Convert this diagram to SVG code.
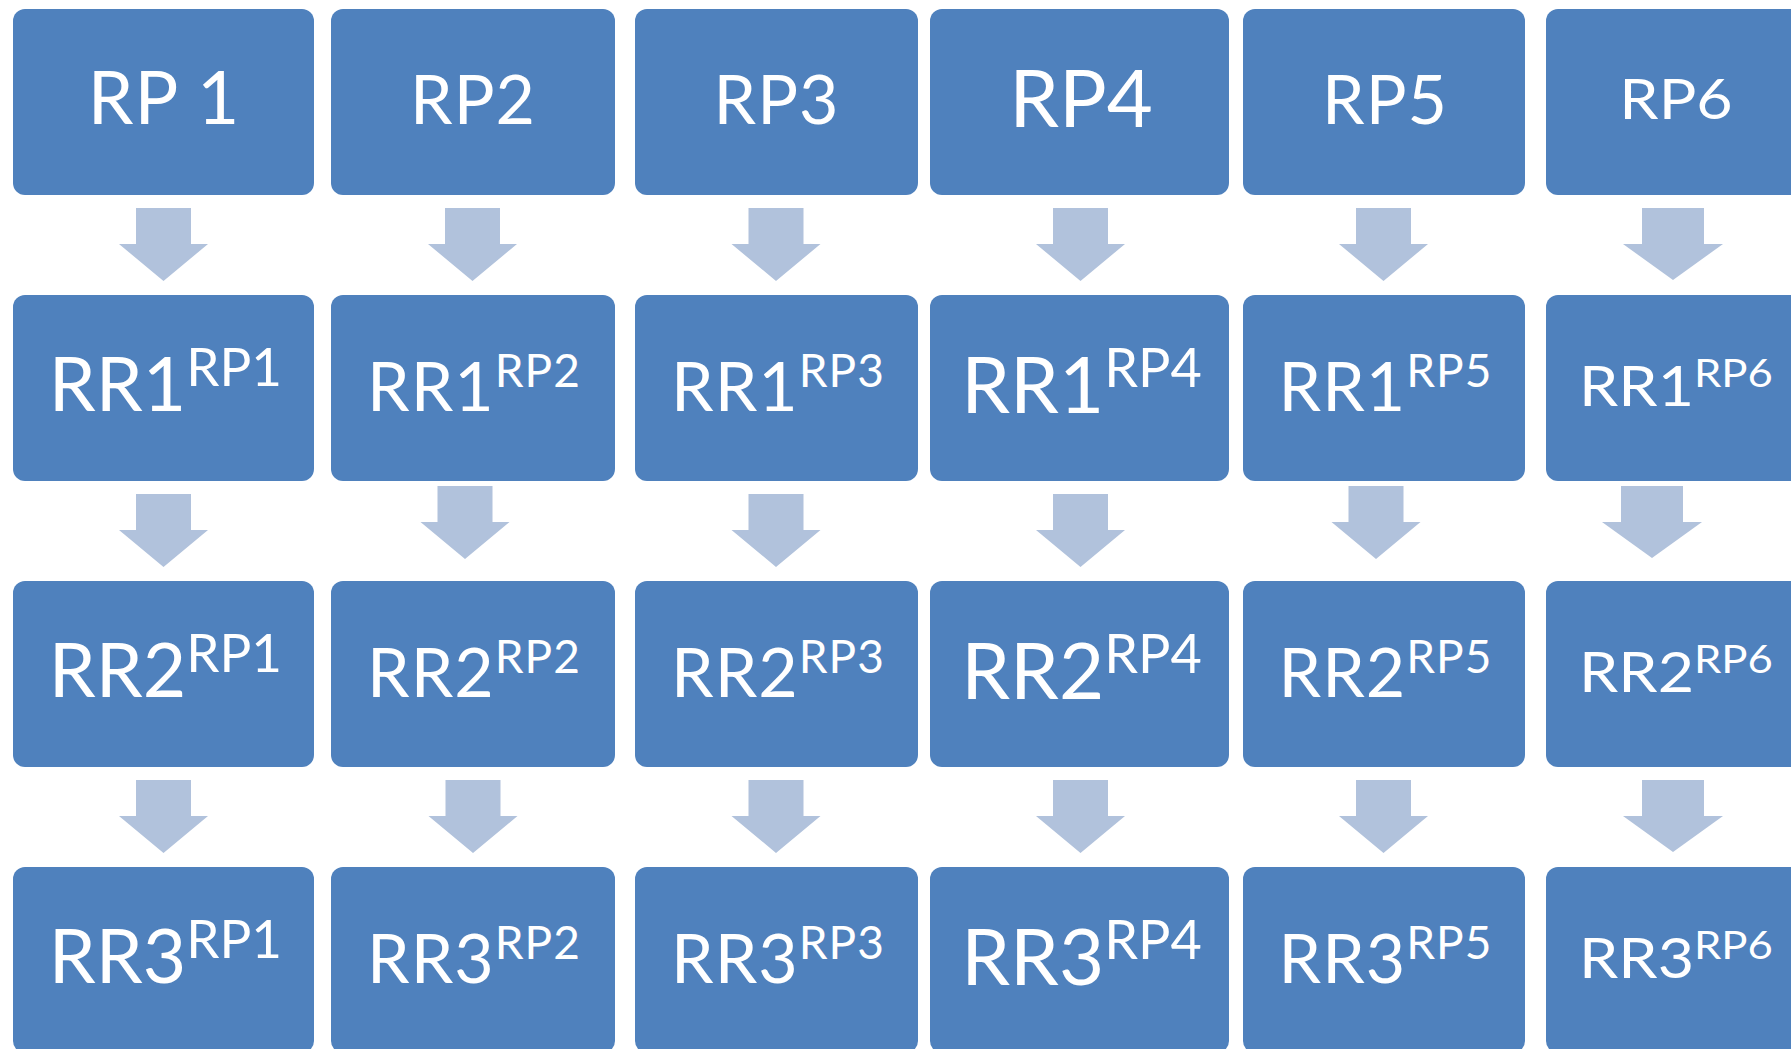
<svg xmlns="http://www.w3.org/2000/svg" xmlns:xlink="http://www.w3.org/1999/xlink" width="1791" height="1049" viewBox="0 0 1791 1049">
<style>
.box{fill:#4F81BD;}
.arr{fill:#B1C2DC;}
text{font-family:Lato,"Open Sans","Liberation Sans",sans-serif;fill:#FFFFFF;text-anchor:middle;}
.m{letter-spacing:1px;}
</style>
<defs>
<polygon id="a" points="-27.5,0 27.5,0 27.5,36 44.5,36 0,73 -44.5,36 -27.5,36"/>
<polygon id="b" points="-31,0 31,0 31,36 50,36 0,72 -50,36 -31,36"/>
</defs>
<rect width="1791" height="1049" fill="#FFFFFF"/>
<g id="connectors" class="arr">
<use xlink:href="#a" x="163.5" y="208"/>
<use xlink:href="#a" x="472.5" y="208"/>
<use xlink:href="#a" x="776" y="208"/>
<use xlink:href="#a" x="1080.5" y="208"/>
<use xlink:href="#a" x="1383.5" y="208"/>
<use xlink:href="#b" x="1673" y="208"/>
<use xlink:href="#a" x="163.5" y="494"/>
<use xlink:href="#a" x="465" y="486"/>
<use xlink:href="#a" x="776" y="494"/>
<use xlink:href="#a" x="1080.5" y="494"/>
<use xlink:href="#a" x="1376" y="486"/>
<use xlink:href="#b" x="1652" y="486"/>
<use xlink:href="#a" x="163.5" y="780"/>
<use xlink:href="#a" x="473" y="780"/>
<use xlink:href="#a" x="776" y="780"/>
<use xlink:href="#a" x="1080.5" y="780"/>
<use xlink:href="#a" x="1383.5" y="780"/>
<use xlink:href="#b" x="1673" y="780"/>
</g>
<g id="rp1"><rect class="box" x="13" y="9" width="301" height="186" rx="12"/><text x="164" y="124" font-size="73" letter-spacing="1">RP 1</text></g>
<g id="rp2"><rect class="box" x="331" y="9" width="284" height="186" rx="12"/><text class="m" x="473" y="124" font-size="68">RP2</text></g>
<g id="rp3"><rect class="box" x="635" y="9" width="283" height="186" rx="12"/><text class="m" x="776.5" y="124" font-size="68">RP3</text></g>
<g id="rp4"><rect class="box" x="930" y="9" width="299" height="186" rx="12"/><text x="1081" y="127" font-size="79.5">RP4</text></g>
<g id="rp5"><rect class="box" x="1243" y="9" width="282" height="186" rx="12"/><text class="m" x="1385" y="124" font-size="68">RP5</text></g>
<g id="rp6"><rect class="box" x="1546" y="9" width="290" height="186" rx="12"/><text transform="translate(1676,119) scale(1.12,1)" x="0" y="0" font-size="56">RP6</text></g>

<g id="rr1-rp1"><rect class="box" x="13" y="295" width="301" height="186" rx="12"/><text x="165.5" y="411" font-size="75">RR1<tspan dy="-25" font-size="53">RP1</tspan></text></g>
<g id="rr1-rp2"><rect class="box" x="331" y="295" width="284" height="186" rx="12"/><text class="m" x="474" y="411" font-size="68">RR1<tspan dy="-24" font-size="46">RP2</tspan></text></g>
<g id="rr1-rp3"><rect class="box" x="635" y="295" width="283" height="186" rx="12"/><text class="m" x="778" y="411" font-size="68">RR1<tspan dy="-24" font-size="46">RP3</tspan></text></g>
<g id="rr1-rp4"><rect class="box" x="930" y="295" width="299" height="186" rx="12"/><text x="1081.5" y="413" font-size="78">RR1<tspan dy="-26" font-size="54">RP4</tspan></text></g>
<g id="rr1-rp5"><rect class="box" x="1243" y="295" width="282" height="186" rx="12"/><text class="m" x="1385.5" y="411" font-size="68">RR1<tspan dy="-24" font-size="46">RP5</tspan></text></g>
<g id="rr1-rp6"><rect class="box" x="1546" y="295" width="290" height="186" rx="12"/><text transform="translate(1676,406) scale(1.12,1)" x="0" y="0" font-size="56">RR1<tspan dy="-19" font-size="39">RP6</tspan></text></g>

<g id="rr2-rp1"><rect class="box" x="13" y="581" width="301" height="186" rx="12"/><text x="165.5" y="697" font-size="75">RR2<tspan dy="-25" font-size="53">RP1</tspan></text></g>
<g id="rr2-rp2"><rect class="box" x="331" y="581" width="284" height="186" rx="12"/><text class="m" x="474" y="697" font-size="68">RR2<tspan dy="-24" font-size="46">RP2</tspan></text></g>
<g id="rr2-rp3"><rect class="box" x="635" y="581" width="283" height="186" rx="12"/><text class="m" x="778" y="697" font-size="68">RR2<tspan dy="-24" font-size="46">RP3</tspan></text></g>
<g id="rr2-rp4"><rect class="box" x="930" y="581" width="299" height="186" rx="12"/><text x="1081.5" y="699" font-size="78">RR2<tspan dy="-26" font-size="54">RP4</tspan></text></g>
<g id="rr2-rp5"><rect class="box" x="1243" y="581" width="282" height="186" rx="12"/><text class="m" x="1385.5" y="697" font-size="68">RR2<tspan dy="-24" font-size="46">RP5</tspan></text></g>
<g id="rr2-rp6"><rect class="box" x="1546" y="581" width="290" height="186" rx="12"/><text transform="translate(1676,692) scale(1.12,1)" x="0" y="0" font-size="56">RR2<tspan dy="-19" font-size="39">RP6</tspan></text></g>

<g id="rr3-rp1"><rect class="box" x="13" y="867" width="301" height="186" rx="12"/><text x="165.5" y="983" font-size="75">RR3<tspan dy="-25" font-size="53">RP1</tspan></text></g>
<g id="rr3-rp2"><rect class="box" x="331" y="867" width="284" height="186" rx="12"/><text class="m" x="474" y="983" font-size="68">RR3<tspan dy="-24" font-size="46">RP2</tspan></text></g>
<g id="rr3-rp3"><rect class="box" x="635" y="867" width="283" height="186" rx="12"/><text class="m" x="778" y="983" font-size="68">RR3<tspan dy="-24" font-size="46">RP3</tspan></text></g>
<g id="rr3-rp4"><rect class="box" x="930" y="867" width="299" height="186" rx="12"/><text x="1081.5" y="985" font-size="78">RR3<tspan dy="-26" font-size="54">RP4</tspan></text></g>
<g id="rr3-rp5"><rect class="box" x="1243" y="867" width="282" height="186" rx="12"/><text class="m" x="1385.5" y="983" font-size="68">RR3<tspan dy="-24" font-size="46">RP5</tspan></text></g>
<g id="rr3-rp6"><rect class="box" x="1546" y="867" width="290" height="186" rx="12"/><text transform="translate(1676,978) scale(1.12,1)" x="0" y="0" font-size="56">RR3<tspan dy="-19" font-size="39">RP6</tspan></text></g>
</svg>
